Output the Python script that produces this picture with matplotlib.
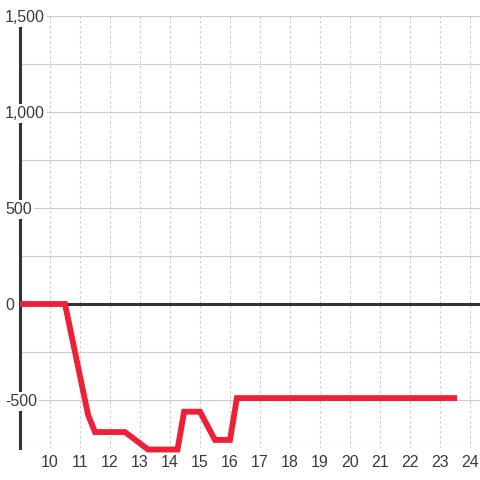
import numpy as np
import matplotlib
matplotlib.use('Agg')
import matplotlib.pyplot as plt
from matplotlib.transforms import blended_transform_factory

plt.rcParams['font.family'] = ['Liberation Sans', 'DejaVu Sans']

# hours vs value
hours = [9.0, 10.5, 11.27, 11.5, 12.5, 13.27, 14.25, 14.47, 15.0, 15.5, 16.0, 16.23, 23.57]
values = [0, 0, -578, -667, -667, -758, -758, -561, -561, -708, -708, -490, -490]

xticks = list(range(10, 25))
yticks = [-500, 0, 500, 1000, 1500]
ylabels = ['-500', '0', '500', '1,000', '1,500']
ygrid = list(range(-750, 1501, 250))

fig = plt.figure(figsize=(4.8, 4.8), dpi=100)
ax = fig.add_axes([20/480, 32/480, 460/480, 432/480])
ax.set_xlim(9, 24.333)
ax.set_ylim(-750, 1500)

for s in ['top', 'right', 'bottom']:
    ax.spines[s].set_visible(False)
ax.spines['left'].set_color('#333333')
ax.spines['left'].set_linewidth(2.2)
ax.spines['left'].set_zorder(2)

for g in ygrid:
    ax.axhline(g, color='#cccccc', lw=0.8, zorder=1)
for xt in xticks:
    ax.axvline(xt, color='#c8c8c8', lw=0.8, ls=(0, (2, 2.5)), zorder=1)
ax.axhline(0, color='#333333', lw=2.2, zorder=3)

ax.plot(hours, values, color='#ee1f36', lw=4.2, solid_joinstyle='miter',
        solid_capstyle='butt', zorder=5, clip_on=False)

ax.set_xticks(xticks)
ax.set_xticklabels([str(x) for x in xticks], fontsize=11.5, color='#3a3a3a')
ax.tick_params(axis='x', length=0, pad=5)
ax.set_yticks([])

tr = blended_transform_factory(fig.transFigure, ax.transData)
for v, lab in zip(yticks, ylabels):
    ax.text(5/480, v, lab, transform=tr, ha='left', va='center_baseline', fontsize=11.5,
            color='#3a3a3a', zorder=4, clip_on=False,
            bbox=dict(boxstyle='square,pad=0.15', fc='white', ec='none'))

fig.savefig('out.png', dpi=100)
